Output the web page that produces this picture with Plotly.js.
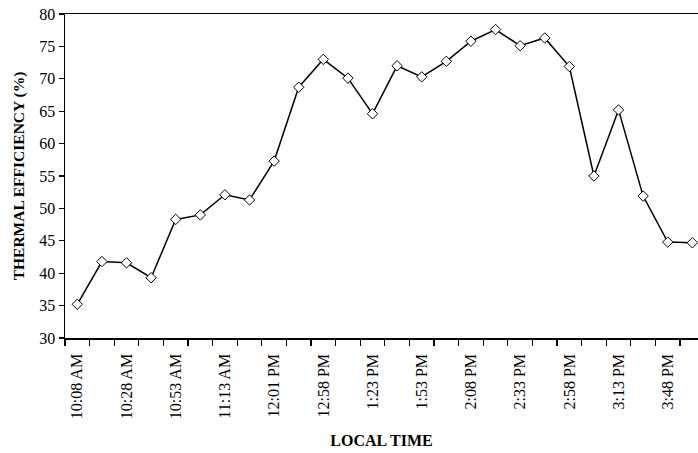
<!DOCTYPE html>
<html>
<head>
<meta charset="utf-8">
<script src="https://cdn.plot.ly/plotly-3.0.1.min.js"></script>
<style>html,body{margin:0;padding:0;background:#fff;}#chart{width:698px;height:453px;}</style>
</head>
<body>
<div id="chart"></div>
<script>
// Data (26 readings; every other one labelled)
var pointIndex = [0,1,2,3,4,5,6,7,8,9,10,11,12,13,14,15,16,17,18,19,20,21,22,23,24,25];
var efficiency = [35.2,41.8,41.6,39.3,48.3,49.0,52.1,51.3,57.3,68.7,73.0,70.1,64.6,72.0,70.3,72.7,75.8,77.6,75.1,76.3,71.9,55.0,65.2,51.9,44.8,44.7];
var tickPositions = [0,2,4,6,8,10,12,14,16,18,20,22,24];
var tickLabels = ["10:08 AM","10:28 AM","10:53 AM","11:13 AM","12:01 PM","12:58 PM","1:23 PM","1:53 PM","2:08 PM","2:33 PM","2:58 PM","3:13 PM","3:48 PM"];

var font = "Liberation Serif";

var trace = {
  x: pointIndex,
  y: efficiency,
  type: 'scatter',
  mode: 'lines+markers',
  line: {color: '#000000', width: 1.5},
  marker: {symbol: 'diamond', size: 8, color: '#ffffff', line: {color: '#000000', width: 1}},
  cliponaxis: false,
  hoverinfo: 'x+y'
};

var layout = {
  width: 698,
  height: 453,
  margin: {l: 65, r: 0, t: 14, b: 115},
  paper_bgcolor: '#ffffff',
  plot_bgcolor: '#ffffff',
  showlegend: false,
  font: {family: font, color: '#000000'},
  xaxis: {
    range: [-0.5, 25.23],
    tickmode: 'array',
    tickvals: tickPositions,
    ticktext: tickLabels,
    tickangle: -90,
    ticks: '',
    tickfont: {family: font, size: 16, color: '#000'},
    ticklabelstandoff: 8,
    showgrid: false,
    zeroline: false,
    showline: true,
    linecolor: '#000',
    linewidth: 1.5,
    mirror: true,
    minor: {tick0: -0.5, dtick: 1, ticks: 'outside', ticklen: 6, tickcolor: '#000', tickwidth: 1.2, showgrid: false},
    title: {text: '<b>LOCAL TIME</b>', font: {family: font, size: 16, color: '#000'}, standoff: 16}
  },
  yaxis: {
    range: [30, 80],
    tickmode: 'linear',
    tick0: 30,
    dtick: 5,
    ticks: 'outside',
    ticklen: 5,
    tickwidth: 1.2,
    tickcolor: '#000',
    tickfont: {family: font, size: 16, color: '#000'},
    showgrid: false,
    zeroline: false,
    showline: true,
    linecolor: '#000',
    linewidth: 1.5,
    title: {text: '<b>THERMAL EFFICIENCY (%)</b>', font: {family: font, size: 15.5, color: '#000'}, standoff: 11}
  }
};

Plotly.newPlot('chart', [trace], layout, {displayModeBar: false, staticPlot: true});
</script>
</body>
</html>
